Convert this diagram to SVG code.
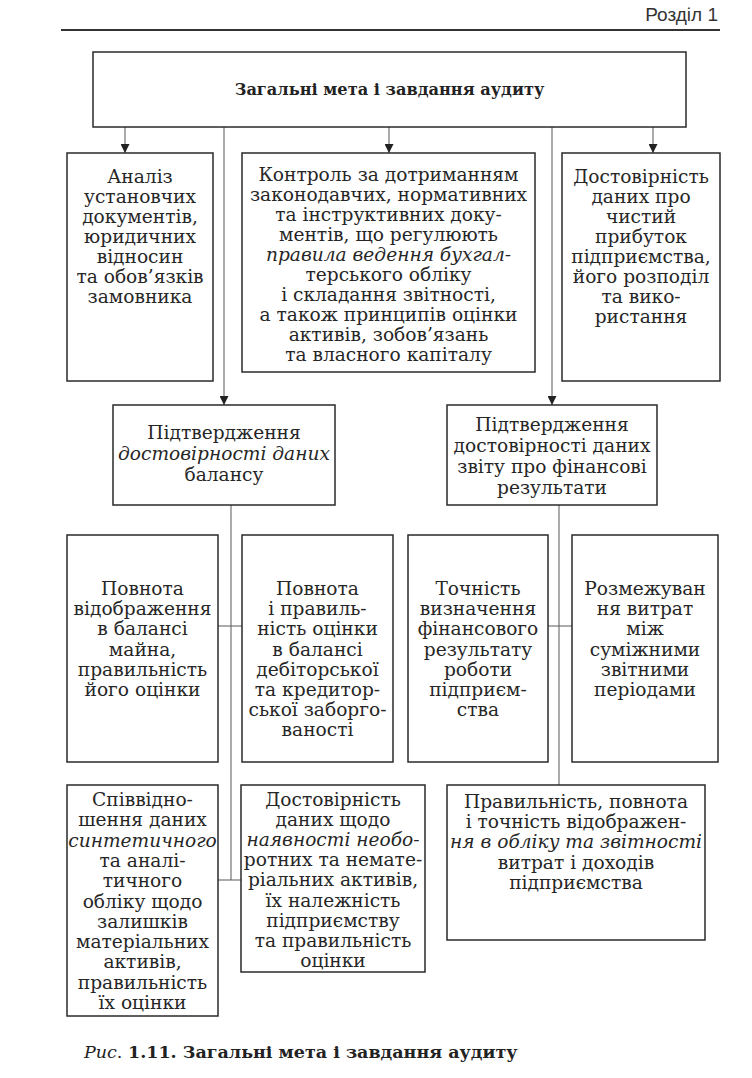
<svg xmlns="http://www.w3.org/2000/svg" width="752" height="1078" viewBox="0 0 752 1078">
<style>
.box{fill:#fff;stroke:#2a2a2a;stroke-width:1.5}
.t{font-family:"DejaVu Serif","Liberation Serif",serif;font-size:18.6px;fill:#262626;text-anchor:middle}
.title{font-family:"DejaVu Serif","Liberation Serif",serif;font-size:16.2px;font-weight:bold;fill:#222;text-anchor:middle}
.c{stroke:#666;stroke-width:1.1;fill:none}
.hdr{font-family:"Liberation Sans",Arial,sans-serif;font-size:19px;fill:#333;text-anchor:end}
</style>
<defs>
<marker id="ah" viewBox="0 0 10 10" refX="10" refY="5" markerWidth="10" markerHeight="9" markerUnits="userSpaceOnUse" orient="auto">
<path d="M0,0 L10,5 L0,10 z" fill="#222"/>
</marker>
</defs>
<rect width="752" height="1078" fill="#fff"/>
<text class="hdr" x="718" y="21">Розділ 1</text>
<line x1="61" y1="30" x2="720" y2="30" stroke="#333" stroke-width="2"/>

<g id="connectors">
<line class="c" x1="125" y1="127" x2="125" y2="153" marker-end="url(#ah)"/>
<line class="c" x1="389" y1="127" x2="389" y2="153" marker-end="url(#ah)"/>
<line class="c" x1="653" y1="127" x2="653" y2="153" marker-end="url(#ah)"/>
<line class="c" x1="224" y1="127" x2="224" y2="405" marker-end="url(#ah)"/>
<line class="c" x1="552" y1="127" x2="552" y2="405" marker-end="url(#ah)"/>
<line class="c" x1="231" y1="505" x2="231" y2="880"/>
<line class="c" x1="218" y1="626" x2="242" y2="626"/>
<line class="c" x1="218" y1="880" x2="241" y2="880"/>
<line class="c" x1="559" y1="505" x2="559" y2="785"/>
<line class="c" x1="548" y1="626" x2="572" y2="626"/>
</g>

<g id="n-top">
<rect class="box" x="93" y="52" width="593" height="75"/>
<text class="title" x="389.5" y="95">Загальні мета і завдання аудиту</text>
</g>

<g id="n-analiz">
<rect class="box" x="67" y="153" width="146" height="228"/>
<text class="t" y="183"><tspan x="140">Аналіз</tspan><tspan x="140" dy="20">установчих</tspan><tspan x="140" dy="20">документів,</tspan><tspan x="140" dy="20">юридичних</tspan><tspan x="140" dy="20">відносин</tspan><tspan x="140" dy="20">та обов’язків</tspan><tspan x="140" dy="20">замовника</tspan></text>
</g>

<g id="n-kontrol">
<rect class="box" x="242" y="153" width="293" height="219"/>
<text class="t" y="181"><tspan x="388.5">Контроль за дотриманням</tspan><tspan x="388.5" dy="20">законодавчих, нормативних</tspan><tspan x="388.5" dy="20">та інструктивних доку-</tspan><tspan x="388.5" dy="20">ментів, що регулюють</tspan><tspan x="388.5" dy="20" font-style="italic">правила ведення бухгал-</tspan><tspan x="388.5" dy="20">терського обліку</tspan><tspan x="388.5" dy="20">і складання звітності,</tspan><tspan x="388.5" dy="20">а також принципів оцінки</tspan><tspan x="388.5" dy="20">активів, зобов’язань</tspan><tspan x="388.5" dy="20">та власного капіталу</tspan></text>
</g>

<g id="n-prybutok">
<rect class="box" x="562" y="153" width="158" height="228"/>
<text class="t" y="183"><tspan x="641">Достовірність</tspan><tspan x="641" dy="20">даних про</tspan><tspan x="641" dy="20">чистий</tspan><tspan x="641" dy="20">прибуток</tspan><tspan x="641" dy="20">підприємства,</tspan><tspan x="641" dy="20">його розподіл</tspan><tspan x="641" dy="20">та вико-</tspan><tspan x="641" dy="20">ристання</tspan></text>
</g>

<g id="n-balans">
<rect class="box" x="113" y="405" width="222" height="100"/>
<text class="t" y="439"><tspan x="224">Підтвердження</tspan><tspan x="224" dy="21" font-style="italic">достовірності даних</tspan><tspan x="224" dy="21">балансу</tspan></text>
</g>

<g id="n-zvit">
<rect class="box" x="447" y="405" width="210" height="100"/>
<text class="t" y="431"><tspan x="552">Підтвердження</tspan><tspan x="552" dy="21">достовірності даних</tspan><tspan x="552" dy="21">звіту про фінансові</tspan><tspan x="552" dy="21">результати</tspan></text>
</g>

<g id="n-maino">
<rect class="box" x="67" y="535" width="151" height="227"/>
<text class="t" y="595"><tspan x="142.5">Повнота</tspan><tspan x="142.5" dy="20.2">відображення</tspan><tspan x="142.5" dy="20.2">в балансі</tspan><tspan x="142.5" dy="20.2">майна,</tspan><tspan x="142.5" dy="20.2">правильність</tspan><tspan x="142.5" dy="20.2">його оцінки</tspan></text>
</g>

<g id="n-debitor">
<rect class="box" x="242" y="535" width="151" height="227"/>
<text class="t" y="595"><tspan x="317.5">Повнота</tspan><tspan x="317.5" dy="20.2">і правиль-</tspan><tspan x="317.5" dy="20.2">ність оцінки</tspan><tspan x="317.5" dy="20.2">в балансі</tspan><tspan x="317.5" dy="20.2">дебіторської</tspan><tspan x="317.5" dy="20.2">та кредитор-</tspan><tspan x="317.5" dy="20.2">ської заборго-</tspan><tspan x="317.5" dy="20.2">ваності</tspan></text>
</g>

<g id="n-tochnist">
<rect class="box" x="408" y="535" width="140" height="227"/>
<text class="t" y="595"><tspan x="478">Точність</tspan><tspan x="478" dy="20.2">визначення</tspan><tspan x="478" dy="20.2">фінансового</tspan><tspan x="478" dy="20.2">результату</tspan><tspan x="478" dy="20.2">роботи</tspan><tspan x="478" dy="20.2">підприєм-</tspan><tspan x="478" dy="20.2">ства</tspan></text>
</g>

<g id="n-rozmezh">
<rect class="box" x="572" y="535" width="146" height="227"/>
<text class="t" y="595"><tspan x="645">Розмежуван</tspan><tspan x="645" dy="20.2">ня витрат</tspan><tspan x="645" dy="20.2">між</tspan><tspan x="645" dy="20.2">суміжними</tspan><tspan x="645" dy="20.2">звітними</tspan><tspan x="645" dy="20.2">періодами</tspan></text>
</g>

<g id="n-spivvidn">
<rect class="box" x="67" y="785" width="151" height="231"/>
<text class="t" y="806"><tspan x="142.5">Співвідно-</tspan><tspan x="142.5" dy="20.3">шення даних</tspan><tspan x="142.5" dy="20.3" font-style="italic">синтетичного</tspan><tspan x="142.5" dy="20.3">та аналі-</tspan><tspan x="142.5" dy="20.3">тичного</tspan><tspan x="142.5" dy="20.3">обліку щодо</tspan><tspan x="142.5" dy="20.3">залишків</tspan><tspan x="142.5" dy="20.3">матеріальних</tspan><tspan x="142.5" dy="20.3">активів,</tspan><tspan x="142.5" dy="20.3">правильність</tspan><tspan x="142.5" dy="20.3">їх оцінки</tspan></text>
</g>

<g id="n-neoborotni">
<rect class="box" x="241" y="785" width="184" height="187"/>
<text class="t" y="806"><tspan x="333">Достовірність</tspan><tspan x="333" dy="20.1">даних щодо</tspan><tspan x="333" dy="20.1" font-style="italic">наявності необо-</tspan><tspan x="333" dy="20.1">ротних та немате-</tspan><tspan x="333" dy="20.1">ріальних активів,</tspan><tspan x="333" dy="20.1">їх належність</tspan><tspan x="333" dy="20.1">підприємству</tspan><tspan x="333" dy="20.1">та правильність</tspan><tspan x="333" dy="20.1">оцінки</tspan></text>
</g>

<g id="n-vytraty">
<rect class="box" x="447" y="785" width="258" height="155"/>
<text class="t" y="808"><tspan x="576">Правильність, повнота</tspan><tspan x="576" dy="20.2">і точність відображен-</tspan><tspan x="576" dy="20.2" font-style="italic">ня в обліку та звітності</tspan><tspan x="576" dy="20.2">витрат і доходів</tspan><tspan x="576" dy="20.2">підприємства</tspan></text>
</g>

<text x="84" y="1058" style="font-family:'DejaVu Serif','Liberation Serif',serif;font-size:17.5px;fill:#222"><tspan font-style="italic">Рис</tspan>. <tspan font-weight="bold">1.11. Загальні мета і завдання аудиту</tspan></text>
</svg>
